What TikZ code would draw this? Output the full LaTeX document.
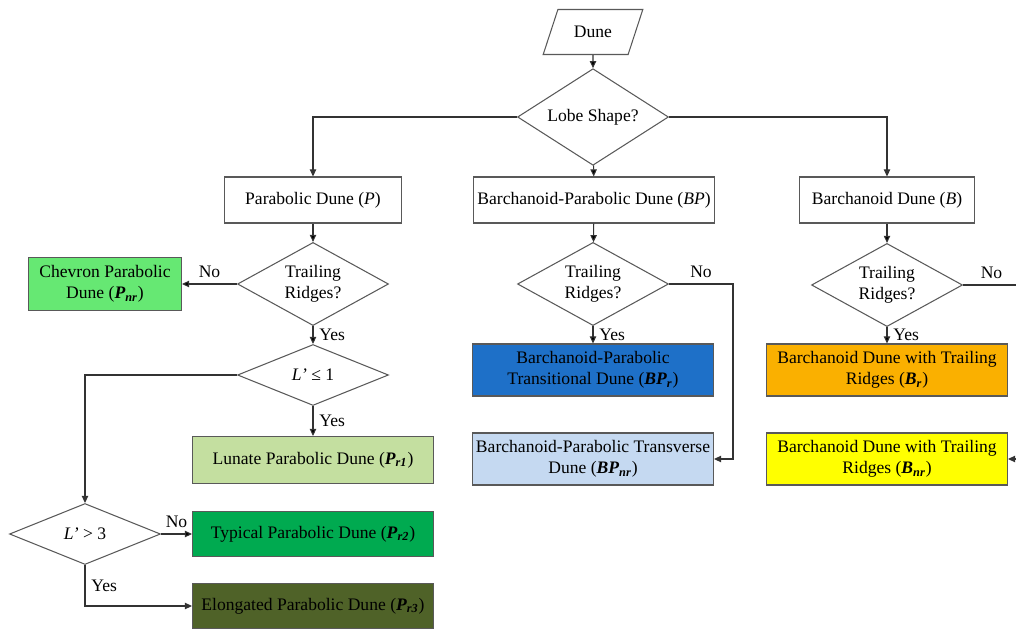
\documentclass[tikz,border=0pt]{standalone}
\usepackage{fontspec}
\setmainfont{Liberation Serif}
\usetikzlibrary{shapes.geometric,arrows.meta}
\newcommand{\dsym}[2]{\textbf{\textit{#1}}\textsubscript{\textbf{\textit{#2}}}}
\definecolor{chevgreen}{RGB}{102,232,115}
\definecolor{lunategreen}{RGB}{196,223,160}
\definecolor{typicalgreen}{RGB}{0,170,80}
\definecolor{elonggreen}{RGB}{79,98,40}
\definecolor{bprblue}{RGB}{30,112,200}
\definecolor{bpnrblue}{RGB}{197,217,241}
\definecolor{brorange}{RGB}{250,176,0}
\definecolor{bnryellow}{RGB}{255,255,0}
\begin{document}
\begin{tikzpicture}[x=0.02cm,y=-0.02cm,line width=0.6pt,
                    box/.style={rectangle,draw=black!65,fill=white,align=center,minimum height=0.92cm,inner sep=1pt},
                    wide box/.style={box,minimum width=4.82cm},
                    decision/.style={diamond,draw=black!65,align=center,minimum width=3.02cm,minimum height=1.22cm,inner sep=-1.5pt},
                    flow/.style={draw=black!80,-{Triangle[length=4pt,width=3.6pt]}}
                   ]
  \useasboundingbox (0,0) rectangle (1016,631);
  \clip (0,0) rectangle (1016,631);

  \node[trapezium,trapezium left angle=66,trapezium right angle=114,trapezium stretches=true,
        draw=black!65,minimum width=2cm,minimum height=0.9cm] (dune) at (593,32) {Dune};
  \node[decision] (lobe) at (593,117) {Lobe Shape?};

  \node[box,minimum width=3.54cm] (par) at (313,200) {Parabolic Dune (\textit{P})};
  \node[wide box] (bp) at (594,200) {Barchanoid-Parabolic Dune (\textit{BP})};
  \node[box,minimum width=3.5cm] (bar) at (887,200) {Barchanoid Dune (\textit{B})};

  \node[decision] (ptr) at (313,284) {Trailing\\Ridges?};
  \node[decision] (bptr) at (593,284) {Trailing\\Ridges?};
  \node[decision] (btr) at (887,285) {Trailing\\Ridges?};

  % parabolic branch
  \node[box,fill=chevgreen,minimum width=3.06cm,minimum height=1.06cm] (chev) at (105,284) {Chevron Parabolic\\Dune (\dsym{P}{nr})};
  \node[decision] (lone) at (313,375) {\textit{L’} ≤ 1};
  \node[wide box,fill=lunategreen,minimum height=0.94cm] (lun) at (313,460) {Lunate Parabolic Dune (\dsym{P}{r1})};
  \node[decision] (lthree) at (85,534) {\textit{L’} > 3};
  \node[wide box,fill=typicalgreen,minimum height=0.9cm] (typ) at (313,534) {Typical Parabolic Dune (\dsym{P}{r2})};
  \node[wide box,fill=elonggreen,minimum height=0.9cm] (elo) at (313,606) {Elongated Parabolic Dune (\dsym{P}{r3})};

  % barchanoid-parabolic and barchanoid branches
  \node[wide box,fill=bprblue,minimum height=1.04cm] (bpr) at (593,370) {Barchanoid-Parabolic\\Transitional Dune (\dsym{BP}{r})};
  \node[wide box,fill=bpnrblue,minimum height=1.04cm] (bpnr) at (593,459) {Barchanoid-Parabolic Transverse\\Dune (\dsym{BP}{nr})};
  \node[wide box,fill=brorange,minimum height=1.04cm] (br) at (887,370) {Barchanoid Dune with Trailing\\Ridges (\dsym{B}{r})};
  \node[wide box,fill=bnryellow,minimum height=1.04cm] (bnr) at (887,459) {Barchanoid Dune with Trailing\\Ridges (\dsym{B}{nr})};

  \coordinate (bpturn) at (733,284);
  \coordinate (bturn) at (1040,285);

  \path[flow]%
   (dune) edge (lobe)
   (lobe) edge (bp)
   (par) edge (ptr)
   (bp) edge (bptr)
   (bar) edge (btr)
   (ptr) edge node[above] {No} (chev)
   (ptr) edge node[right] {Yes} (lone)
   (lone) edge node[right] {Yes} (lun)
   (lthree) edge node[above] {No} (typ)
   (bptr) edge node[right] {Yes} (bpr)
   (btr) edge node[right] {Yes} (br);

  \draw[flow] (lobe.west) -| (par.north);
  \draw[flow] (lobe.east) -| (bar.north);
  \draw[flow] (lone.west) -| (lthree.north);
  \draw[flow] (lthree.south) |- node[right,pos=0.25] {Yes} (elo.west);
  \draw[flow] (bptr.east) -- node[above] {No} (bpturn) |- (bpnr.east);
  \draw[flow] (btr.east) -- node[above,pos=0.37] {No} (bturn) |- (bnr.east);
\end{tikzpicture}
\end{document}
